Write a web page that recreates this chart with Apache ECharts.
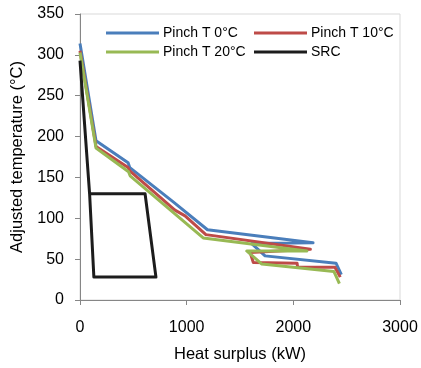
<!DOCTYPE html>
<html>
<head>
<meta charset="utf-8">
<script src="https://cdn.jsdelivr.net/npm/echarts@6/dist/echarts.min.js"></script>
<style>
  html, body { margin: 0; padding: 0; background: #fff; }
  #chart { width: 421px; height: 368px; }
</style>
</head>
<body>
<div id="chart"></div>
<script>
// Heat surplus (kW) vs adjusted temperature (°C) for each pinch temperature
const pinch0 = [[0, 314], [150, 195], [451, 168], [467, 162], [874, 120], [1195, 86], [2185, 70], [1610, 69], [1735, 54], [2400, 45], [2450, 31]];
const pinch10 = [[0, 305], [150, 188], [451, 162], [467, 158], [890, 110], [985, 103], [1180, 80], [2160, 62], [1595, 58], [1625, 46], [2035, 45], [2040, 40], [2390, 40], [2440, 28]];
const pinch20 = [[0, 303], [150, 186], [455, 157], [470, 152], [1155, 76], [2127, 60], [1563, 60], [1705, 44], [2380, 35], [2432, 20]];
const src = [[0, 293], [90, 130], [610, 130], [712, 28], [130, 28], [90, 130]];

const seriesNames = ['Pinch T 0°C', 'Pinch T 10°C', 'Pinch T 20°C', 'SRC'];
const seriesColors = ['#4a7ebb', '#be4b48', '#98b954', '#1c1c1c'];
const xTicks = [0, 1000, 2000, 3000];
const yTicks = [0, 50, 100, 150, 200, 250, 300, 350];

const font = 'Liberation Sans, Arial, sans-serif';
const chart = echarts.init(document.getElementById('chart'), null, { renderer: 'canvas' });

const lineSeries = [pinch0, pinch10, pinch20, src].map((data, i) => ({
  name: seriesNames[i],
  type: 'line',
  data: data,
  showSymbol: false,
  symbol: 'none',
  smooth: false,
  animation: false,
  lineStyle: { color: seriesColors[i], width: 3, join: 'round' },
  itemStyle: { color: seriesColors[i] }
}));

const legendBase = {
  orient: 'vertical', top: 21, itemGap: 5,
  itemWidth: 53, itemHeight: 16, icon: 'path://M0,7L53,7L53,10L0,10Z',
  textStyle: { fontFamily: font, fontSize: 14, color: '#000', padding: [0, 0, 0, -1] }
};

chart.setOption({
  animation: false,
  grid: {
    left: 80, right: 21, top: 14, bottom: 63,
    show: true, borderColor: '#d9d9d9', borderWidth: 1
  },
  legend: [
    Object.assign({ data: [seriesNames[0], seriesNames[2]], left: 101 }, legendBase),
    Object.assign({ data: [seriesNames[1], seriesNames[3]], left: 249 }, legendBase)
  ],
  xAxis: {
    type: 'value', min: xTicks[0], max: xTicks[xTicks.length - 1], interval: 1000,
    name: 'Heat surplus (kW)', nameLocation: 'middle', nameGap: 46,
    nameTextStyle: { fontFamily: font, fontSize: 16.5, color: '#000' },
    axisLine: { lineStyle: { color: '#868686', width: 1 } },
    axisTick: { show: true, inside: false, length: 5, lineStyle: { color: '#868686' } },
    axisLabel: { fontFamily: font, fontSize: 16, color: '#000', margin: 20, formatter: v => String(v) },
    splitLine: { show: false }
  },
  yAxis: {
    type: 'value', min: yTicks[0], max: yTicks[yTicks.length - 1], interval: 50,
    name: 'Adjusted temperature (°C)', nameLocation: 'middle', nameGap: 52,
    nameTextStyle: { fontFamily: font, fontSize: 16.5, color: '#000' },
    axisLine: { show: true, lineStyle: { color: '#868686', width: 1 } },
    axisTick: { show: true, inside: false, length: 5, lineStyle: { color: '#868686' } },
    axisLabel: { fontFamily: font, fontSize: 16, color: '#000', margin: 16, formatter: v => String(v) },
    splitLine: { show: false }
  },
  series: lineSeries
});
</script>
</body>
</html>
